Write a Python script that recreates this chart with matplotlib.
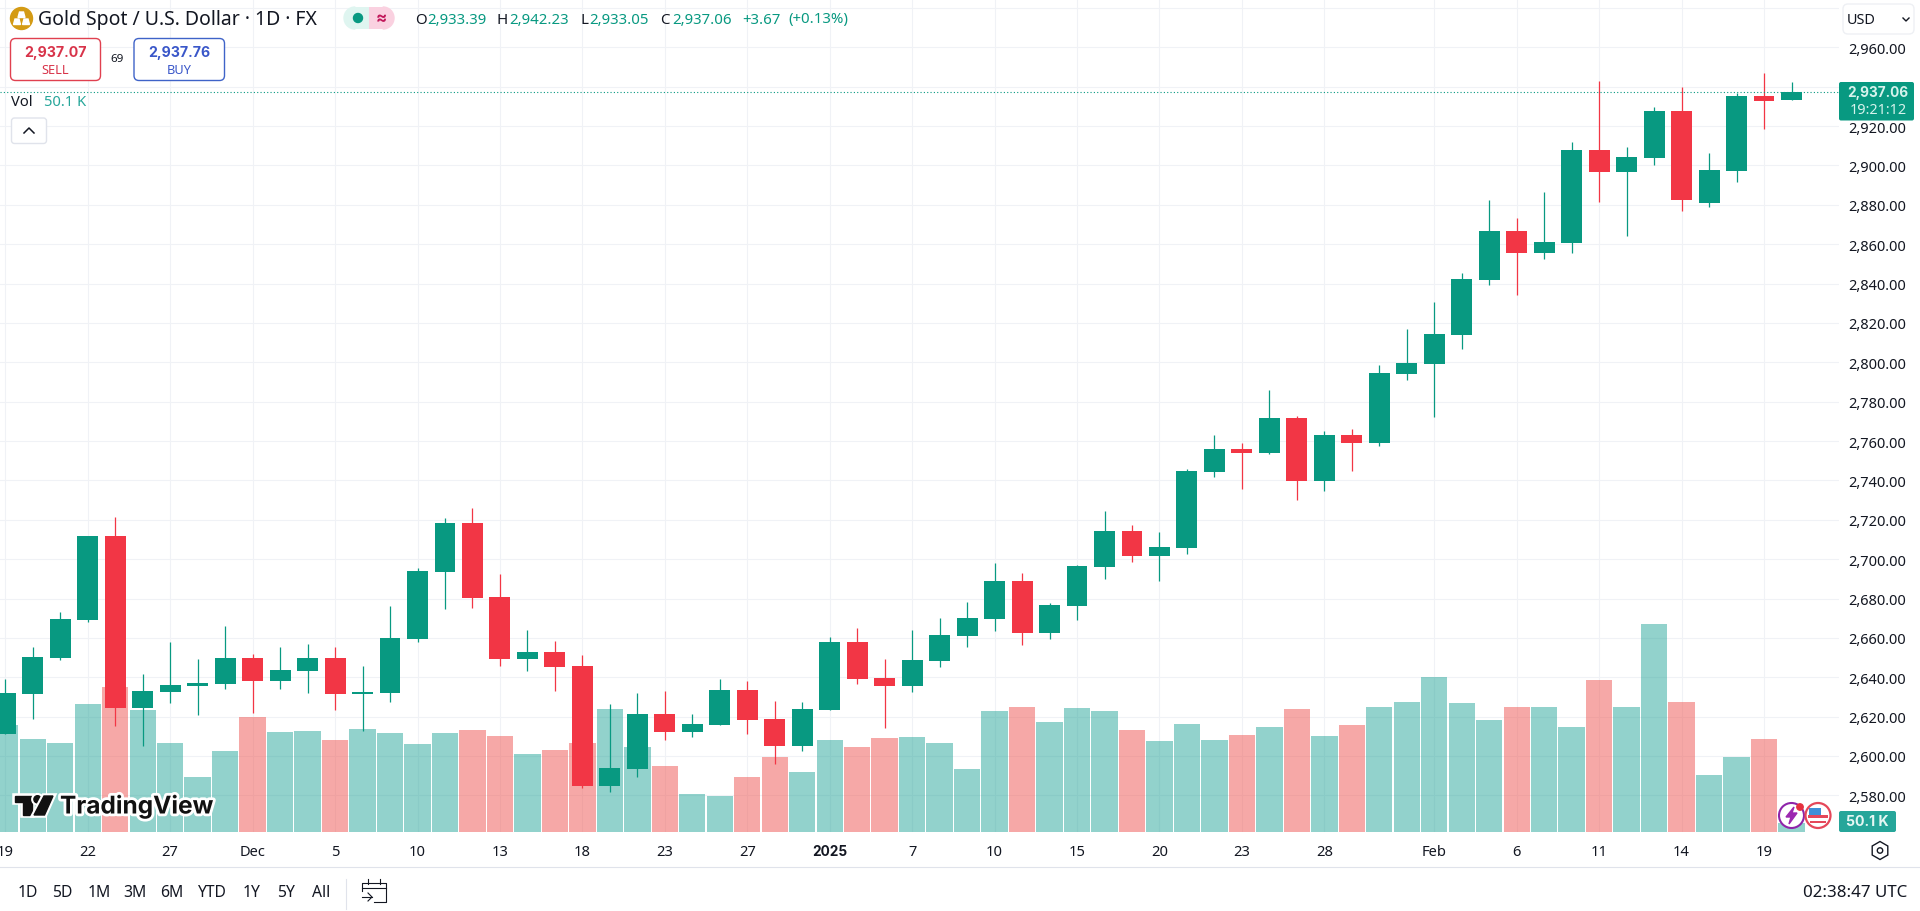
import matplotlib

matplotlib.use("Agg")
matplotlib.rcParams["font.family"] = ["Noto Sans", "DejaVu Sans"]

import matplotlib.pyplot as plt
import matplotlib.patheffects as pe
from matplotlib.patches import Circle, FancyBboxPatch, Polygon, Rectangle, RegularPolygon, Wedge

opens = [2611.2, 2631.7, 2649.8, 2669.2, 2711.7, 2624.4, 2632.5, 2635.6, 2636.6, 2649.8, 2638.1,
         2643.2, 2649.8, 2631.5, 2632.0, 2659.4, 2693.5, 2718.3, 2680.8, 2649.3, 2652.8, 2645.7,
         2584.8, 2593.4, 2621.3, 2612.2, 2615.7, 2633.5, 2618.8, 2605.1, 2623.4, 2657.9, 2639.6,
         2635.6, 2648.3, 2661.0, 2669.6, 2688.9, 2662.5, 2676.2, 2696.0, 2714.3, 2701.6, 2705.7,
         2744.3, 2755.9, 2753.9, 2771.7, 2739.7, 2763.1, 2759.0, 2794.0, 2799.2, 2813.9, 2841.8,
         2866.7, 2855.5, 2860.6, 2907.8, 2896.7, 2903.8, 2927.7, 2880.9, 2897.2, 2935.3, 2933.39]
highs = [2639.1, 2655.2, 2673.0, 2711.9, 2721.4, 2641.5, 2657.9, 2649.1, 2666.0, 2651.8, 2655.2,
         2656.9, 2655.2, 2645.7, 2676.2, 2695.3, 2720.9, 2726.0, 2692.4, 2664.0, 2658.4, 2651.3,
         2626.4, 2631.8, 2633.0, 2621.3, 2639.1, 2638.1, 2627.9, 2627.3, 2660.3, 2665.0, 2649.3,
         2664.0, 2670.1, 2678.2, 2698.0, 2693.0, 2677.7, 2697.0, 2724.4, 2717.3, 2713.8, 2745.8,
         2763.1, 2759.0, 2785.9, 2772.7, 2765.1, 2766.1, 2798.6, 2816.9, 2830.7, 2845.4, 2882.5,
         2873.3, 2886.5, 2911.9, 2942.9, 2909.4, 2929.7, 2939.8, 2906.4, 2936.8, 2947.0, 2942.23]
lows = [2611.0, 2619.0, 2648.8, 2668.2, 2615.4, 2605.2, 2626.9, 2620.8, 2634.0, 2621.8, 2634.0,
        2632.0, 2623.4, 2612.9, 2627.4, 2657.9, 2674.7, 2675.2, 2645.7, 2643.2, 2633.0, 2583.7,
        2581.7, 2589.2, 2608.1, 2609.6, 2615.7, 2611.2, 2595.9, 2602.5, 2623.4, 2636.4, 2614.2,
        2632.5, 2645.2, 2655.4, 2663.5, 2656.4, 2659.4, 2668.9, 2689.9, 2698.5, 2688.9, 2702.6,
        2741.7, 2735.6, 2753.4, 2730.0, 2734.6, 2744.8, 2757.5, 2791.0, 2772.2, 2806.8, 2839.3,
        2834.2, 2852.5, 2855.5, 2881.4, 2864.2, 2900.2, 2876.9, 2878.9, 2891.6, 2918.5, 2933.05]
closes = [2632.0, 2650.3, 2669.6, 2711.7, 2624.4, 2633.0, 2636.1, 2637.1, 2649.8, 2638.1, 2643.7,
          2649.8, 2631.5, 2632.5, 2659.9, 2694.0, 2718.3, 2680.3, 2649.3, 2652.8, 2645.2, 2584.8,
          2593.9, 2621.3, 2612.2, 2616.2, 2633.5, 2618.3, 2605.1, 2623.9, 2657.9, 2639.1, 2635.6,
          2648.8, 2661.5, 2670.1, 2688.9, 2662.5, 2676.7, 2696.5, 2714.3, 2701.6, 2706.2, 2744.8,
          2755.9, 2753.9, 2771.7, 2739.7, 2763.1, 2759.0, 2794.6, 2799.6, 2814.4, 2842.3, 2866.7,
          2855.5, 2861.1, 2907.8, 2896.7, 2904.3, 2927.7, 2882.5, 2897.7, 2935.3, 2932.8, 2937.06]
volumes_k = [615, 534, 511, 736, 834, 701, 511, 315, 465, 661, 574, 580, 528, 592, 569, 505, 569,
             586, 551, 448, 471, 511, 707, 488, 378, 217, 206, 315, 430, 344, 528, 488, 540, 546,
             511, 361, 695, 718, 632, 713, 695, 586, 522, 620, 528, 557, 603, 707, 551, 615, 718,
             747, 891, 741, 643, 718, 718, 603, 874, 718, 1196, 747, 327, 430, 534, 50.1]

tick_bars = [0, 3, 6, 9, 12, 15, 18, 21, 24, 27, 30, 33, 36, 39, 42, 45, 48, 52, 55, 58, 61, 64]
tick_labels = ["19", "22", "27", "Dec", "5", "10", "13", "18", "23", "27", "2025", "7", "10", "15",
               "20", "23", "28", "Feb", "6", "11", "14", "19"]
price_ticks = [2580, 2600, 2620, 2640, 2660, 2680, 2700, 2720, 2740, 2760, 2780, 2800, 2820, 2840,
               2860, 2880, 2900, 2920, 2940, 2960, 2980]
ranges = ["1D", "5D", "1M", "3M", "6M", "YTD", "1Y", "5Y", "All"]
last_price = 2937.06

GREEN = "#089981"
RED = "#f23645"
VOL_GREEN = "#26a69a"
VOL_RED = "#ef5350"
GRID = "#f0f2f6"
INK = "#131722"
BOLD_FONT = "Inter"

W, H = 1920, 912
PANE_W, PANE_H = 1839, 832.7
BAR_STEP, BAR0 = 27.48, 5.3
Y2960, PX_PER_USD = 48.3, 1.9686

fig = plt.figure(figsize=(19.2, 9.12), dpi=100, facecolor="white")
rect = [0, 1 - PANE_H / H, PANE_W / W, PANE_H / H]

# price pane holds the grid and the axis labels, volume and candles sit in layers above it
ax = fig.add_axes(rect, zorder=1)
ax_vol = fig.add_axes(rect, zorder=2, sharex=ax)
ax_candle = fig.add_axes(rect, zorder=3, sharex=ax, sharey=ax)
ax.set_xlim(-BAR0 / BAR_STEP, (PANE_W - BAR0) / BAR_STEP)
ax.set_ylim(2960 - (PANE_H - Y2960) / PX_PER_USD, 2960 + Y2960 / PX_PER_USD)
ax_vol.set_ylim(0, PANE_H * 5.76)

ax.set_yticks(price_ticks)
ax.set_yticklabels(["" if p == 2980 else f"{p:,.2f}" for p in price_ticks])
ax.yaxis.tick_right()
ax.tick_params(axis="y", length=0, pad=6.5, labelsize=10.5, labelcolor=INK)
ax.set_xticks(tick_bars)
ax.set_xticklabels(tick_labels)
ax.tick_params(axis="x", length=0, pad=8.5, labelsize=10.6, labelcolor=INK)
for lab in ax.get_xticklabels():
    if lab.get_text() == "2025":
        lab.set_fontweight("bold")
        lab.set_family(BOLD_FONT)
        lab.set_fontsize(9.8)
ax.grid(True, color=GRID, linewidth=0.75)
ax.set_axisbelow(True)
for s in ax.spines.values():
    s.set_visible(False)

for a in (ax_vol, ax_candle):
    a.patch.set_visible(False)
    a.axis("off")

xs = list(range(len(opens)))
up = [c >= o for o, c in zip(opens, closes)]
candle_colors = [GREEN if u else RED for u in up]
vol_colors = [VOL_GREEN if u else VOL_RED for u in up]

ax_vol.bar(xs, volumes_k, width=0.96, color=vol_colors, alpha=0.5, linewidth=0)
ax_candle.vlines(xs, lows, highs, colors=candle_colors, linewidth=0.9)
ax_candle.bar(xs, [abs(c - o) for o, c in zip(opens, closes)],
              bottom=[min(o, c) for o, c in zip(opens, closes)],
              width=0.76, color=candle_colors, linewidth=0)
ax_candle.axhline(last_price, color=GREEN, linewidth=0.8, linestyle=(0, (1, 2)))

# everything around the chart is placed in screen pixels
ui = fig.add_axes([0, 0, 1, 1], zorder=5)
ui.set_xlim(0, W)
ui.set_ylim(H, 0)
ui.patch.set_visible(False)
ui.axis("off")


def label(x, y, s, size=10.5, color=INK, ha="left", weight="normal", **kw):
    if weight == "bold":
        kw["family"] = BOLD_FONT
    return ui.text(x, y, s, fontsize=size, color=color, ha=ha, va="center", fontweight=weight, **kw)


def box(x0, y0, x1, y1, face="white", edge="none", radius=5, lw=1.0):
    ui.add_patch(FancyBboxPatch((x0 + radius, y0 + radius), x1 - x0 - 2 * radius, y1 - y0 - 2 * radius,
                                boxstyle=f"round,pad={radius}", facecolor=face, edgecolor=edge, linewidth=lw))


# header
ui.add_patch(Circle((21.5, 19.5), 11, color="#d49b14"))
for cx, cy in [(21.5, 15.5), (17, 22.5), (26, 22.5)]:
    ui.add_patch(Polygon([(cx - 3.5, cy + 3), (cx + 3.5, cy + 3), (cx + 2, cy - 2.5), (cx - 2, cy - 2.5)], color="white"))
label(38, 20, "Gold Spot / U.S. Dollar · 1D · FX", size=14, color=INK)

ui.add_patch(Wedge((355, 19), 11, 90, 270, color="#dff5f0"))
ui.add_patch(Rectangle((355, 8), 14, 22, color="#dff5f0", linewidth=0))
ui.add_patch(Rectangle((369, 8), 14, 22, color="#fad1e0", linewidth=0))
ui.add_patch(Wedge((383, 19), 11, -90, 90, color="#fad1e0"))
ui.add_patch(Circle((358, 19), 4.5, color=GREEN))
label(381, 19, "≈", size=12, color="#c2185b", ha="center", weight="bold")

for x, s in [(415, "O"), (497, "H"), (580, "L"), (660, "C")]:
    label(x, 20, s, size=10.8)
for x, s in [(427, "2,933.39"), (509.5, "2,942.23"), (589, "2,933.05"), (672, "2,937.06"),
             (742, "+3.67"), (788, "(+0.13%)")]:
    label(x, 20, s, size=10.8, color=GREEN)

box(10.5, 39.5, 100.5, 81.5, edge="#e0404f")
label(55.5, 53, "2,937.07", size=10.2, color="#d8344a", ha="center", weight="bold")
label(55.5, 70, "SELL", size=9.2, color="#d8344a", ha="center")
label(117, 60, "69", size=8.4, ha="center")
box(134, 39.5, 224.5, 81.5, edge="#3f63c8")
label(179, 53, "2,937.76", size=10.2, color="#3a57c9", ha="center", weight="bold")
label(179, 70, "BUY", size=9.2, color="#3a57c9", ha="center")

label(11, 102, "Vol", size=10.6)
label(43.5, 102, "50.1 K", size=10.6, color=VOL_GREEN)
box(11.5, 119, 46.5, 144.5, edge="#e0e3eb", radius=3)
ui.plot([24, 29, 34], [134, 129, 134], color=INK, linewidth=1.1)

# watermark
halo = [pe.withStroke(linewidth=4, foreground="white")]
logo = [Polygon([(14.5, 797), (32, 797), (32, 816), (22.5, 816), (22.5, 803.5), (14.5, 803.5)], color="#111"),
        Circle((37.5, 800.3), 3.6, color="#111"),
        Polygon([(44, 797), (53, 797), (44.5, 816), (34, 816)], color="#111")]
for p in logo:
    p.set_path_effects(halo)
    ui.add_patch(p)
label(60, 807, "TradingView", size=17.6, color="#111", weight="bold", path_effects=halo)

# right side
box(1843, 5, 1914, 35, edge="#eef0f4", radius=5)
label(1847, 20.5, "USD", size=10.4)
ui.plot([1903, 1906, 1909], [19, 22, 19], color=INK, linewidth=1.0)
box(1839, 83, 1914, 121.5, face=GREEN, radius=2)
label(1878, 92.5, "2,937.06", size=9.8, color="#d6f3ec", ha="center", weight="bold")
label(1878, 110.5, "19:21:12", size=10.4, color="#d6f3ec", ha="center")
box(1839, 812, 1896, 833, face=VOL_GREEN, radius=2)
label(1867.5, 822.5, "50.1 K", size=10.2, color="#e6f7f4", ha="center", weight="bold")

ui.add_patch(Circle((1791.5, 816.5), 12.5, facecolor="white", edgecolor="#8e24aa", linewidth=1.5))
ui.add_patch(Polygon([(1794, 808), (1786, 818), (1791, 818), (1789, 825), (1797, 814), (1792, 814)], color="#9c27b0"))
ui.add_patch(Circle((1800, 808), 3.2, color="#e5303f"))
ui.add_patch(Circle((1818, 816.5), 12.5, facecolor="white", edgecolor="#e5475a", linewidth=1.6))
ui.add_patch(Rectangle((1808, 816), 20, 3.5, color="#e5475a", linewidth=0))
ui.add_patch(Rectangle((1810, 822), 16, 2.5, color="#e5475a", linewidth=0))
ui.add_patch(Rectangle((1809, 809), 12, 7, color="#3f8fd8", linewidth=0))

ui.add_patch(RegularPolygon((1880, 851.5), 6, radius=9, facecolor="none", edgecolor=INK, linewidth=1.0))
ui.add_patch(Circle((1880, 851.5), 2.7, facecolor="none", edgecolor=INK, linewidth=1.0))

# range bar
ui.plot([0, W], [868, 868], color="#e0e3eb", linewidth=0.8)
for x, s in zip([27.8, 62.4, 98.8, 135, 171.4, 212, 252, 286.5, 321.6], ranges):
    label(x, 893, s, size=11.3, ha="center")
ui.plot([345.7, 345.7], [880, 910], color="#e0e3eb", linewidth=0.8)
for xx, yy in [([362, 362, 386, 386, 374], [892, 884, 884, 903, 903]), ([362, 386], [889, 889]),
               ([368, 368], [880, 885]), ([380, 380], [880, 885]), ([362, 372], [898, 898]),
               ([368, 372, 368], [894, 898, 902])]:
    ui.plot(xx, yy, color=INK, linewidth=0.8)
label(1907, 893, "02:38:47 UTC", size=12.2, ha="right")

fig.savefig("out.png", dpi=100)
